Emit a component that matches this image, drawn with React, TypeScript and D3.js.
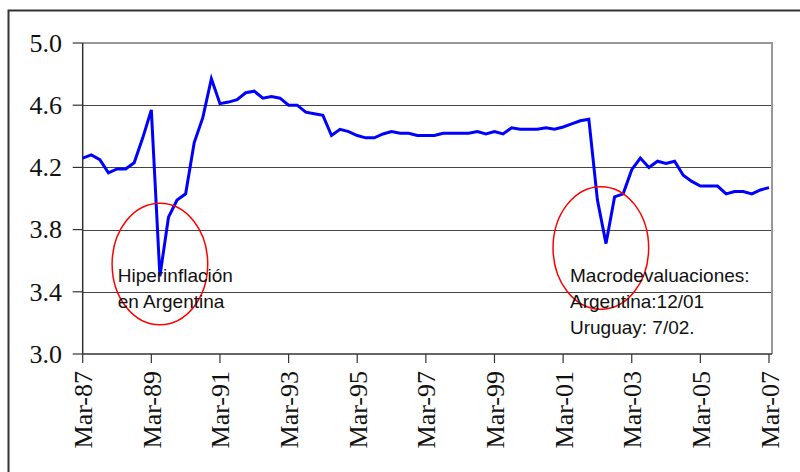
import React from "react";
import * as d3 from "d3";

const values: number[] = [
  4.26, 4.28, 4.25, 4.165, 4.19, 4.19, 4.23, 4.39, 4.57, 3.5,
  3.88, 3.99, 4.03, 4.36, 4.52, 4.77, 4.61, 4.62, 4.635, 4.68,
  4.69, 4.645, 4.655, 4.645, 4.6, 4.6, 4.555, 4.545, 4.535, 4.405,
  4.445, 4.43, 4.405, 4.39, 4.39, 4.415, 4.43, 4.42, 4.42, 4.405,
  4.405, 4.405, 4.42, 4.42, 4.42, 4.42, 4.43, 4.415, 4.43, 4.415,
  4.455, 4.445, 4.445, 4.445, 4.455, 4.445, 4.46, 4.48, 4.5, 4.51,
  3.99, 3.71, 4.01, 4.03, 4.185, 4.26, 4.2, 4.24, 4.225, 4.24,
  4.15, 4.11, 4.08, 4.08, 4.08, 4.03, 4.045, 4.045, 4.03, 4.055,
  4.07,
];

const xTickLabels: string[] = [
  "Mar-87", "Mar-89", "Mar-91", "Mar-93", "Mar-95", "Mar-97",
  "Mar-99", "Mar-01", "Mar-03", "Mar-05", "Mar-07",
];
const yTicks: number[] = [3.0, 3.4, 3.8, 4.2, 4.6, 5.0];

const noteLeft: string[] = ["Hiperinflación", "en Argentina"];
const noteRight: string[] = ["Macrodevaluaciones:", "Argentina:12/01", "Uruguay: 7/02."];

export default function App() {
  const W = 800;
  const H = 472;
  const left = 82.7;
  const right = 769;
  const top = 43;
  const bottom = 354;

  const x = d3.scaleLinear().domain([0, values.length - 1]).range([left, right]);
  const y = d3.scaleLinear().domain([3.0, 5.0]).range([bottom, top]);

  const line = d3
    .line<number>()
    .x((_, i) => x(i))
    .y((d) => y(d));

  const serif = "'Liberation Serif', 'Times New Roman', serif";
  const sans = "'Liberation Sans', Arial, sans-serif";

  return (
    <svg
      width={W}
      height={H}
      style={{ position: "absolute", left: 0, top: 0, background: "#fff" }}
    >
      <rect x={0} y={0} width={W} height={H} fill="#fff" />
      {/* outer frame */}
      <path d={`M8.5,${H} V10.5 H${W}`} fill="none" stroke="#333" strokeWidth={2} />

      {/* gridlines */}
      {yTicks
        .filter((t) => t > 3.0 && t < 5.0)
        .map((t) => (
          <line
            key={t}
            x1={left}
            x2={right + 2}
            y1={Math.round(y(t)) + 0.5}
            y2={Math.round(y(t)) + 0.5}
            stroke="#444"
            strokeWidth={1}
          />
        ))}
      {/* plot border top/right */}
      <path
        d={`M${left},${top} H${right + 3} V${bottom}`}
        fill="none"
        stroke="#999"
        strokeWidth={2}
      />

      {/* y axis */}
      <line x1={left} x2={left} y1={top} y2={bottom} stroke="#333" strokeWidth={1.5} />
      {yTicks.map((t) => (
        <g key={t}>
          <line x1={72.7} x2={left} y1={y(t)} y2={y(t)} stroke="#333" strokeWidth={1.2} />
          <text
            x={62}
            y={y(t)}
            dy="0.34em"
            textAnchor="end"
            fontFamily={serif}
            fontSize={26}
            fill="#111"
          >
            {t.toFixed(1)}
          </text>
        </g>
      ))}

      {/* x axis */}
      <line x1={left} x2={right + 3} y1={bottom} y2={bottom} stroke="#333" strokeWidth={1.5} />
      {xTickLabels.map((lab, i) => {
        const xp = x(i * 8);
        return (
          <g key={lab}>
            <line x1={xp} x2={xp} y1={bottom} y2={bottom + 9} stroke="#333" strokeWidth={1.2} />
            <text
              transform={`translate(${xp + 9.5},${bottom + 17}) rotate(-90)`}
              textAnchor="end"
              fontFamily={serif}
              fontSize={26}
              fill="#111"
            >
              {lab}
            </text>
          </g>
        );
      })}

      {/* data line */}
      <path
        d={line(values) || ""}
        fill="none"
        stroke="#0000ff"
        strokeWidth={3}
        strokeLinejoin="miter"
      />

      {/* annotations */}
      <ellipse cx={x(9)} cy={y(3.579)} rx={47.8} ry={60.8} fill="none" stroke="#ff0000" strokeWidth={1.5} />
      <ellipse cx={x(60.4)} cy={y(3.682)} rx={47.8} ry={61.3} fill="none" stroke="#ff0000" strokeWidth={1.5} />
      {noteLeft.map((s, i) => (
        <text key={s} x={117.7} y={282 + i * 26.3} fontFamily={sans} fontSize={19} fill="#111">
          {s}
        </text>
      ))}
      {noteRight.map((s, i) => (
        <text key={s} x={570} y={281.7 + i * 26.2} fontFamily={sans} fontSize={19} fill="#111">
          {s}
        </text>
      ))}
    </svg>
  );
}
